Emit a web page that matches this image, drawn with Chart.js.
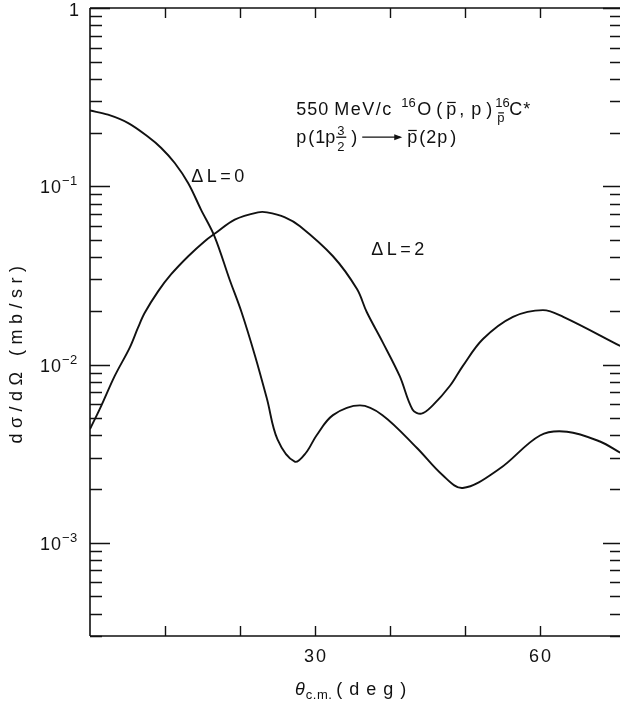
<!DOCTYPE html>
<html>
<head>
<meta charset="utf-8">
<script src="https://cdn.jsdelivr.net/npm/chart.js@4.4.1/dist/chart.umd.min.js"></script>
<style>
  html, body { margin: 0; padding: 0; background: #fff; }
  canvas { display: block; }
</style>
</head>
<body>
<canvas id="myChart" width="620" height="706"></canvas>
<script>
// theta_cm (deg) and d sigma / d Omega (mb/sr)
const angleL0 = [0, 2.4, 5.1, 7.7, 9.5, 11.3, 13.1, 14.8, 16.6, 18.6, 20.2, 22.0, 23.6, 25.0, 27.3, 28.8, 30.2, 32.4, 36.0, 39.0, 43.6, 47.0, 49.7, 54.6, 60.0, 63.6, 68.0, 70.7];
const sigmaL0 = [0.266, 0.252, 0.226, 0.190, 0.164, 0.135, 0.104, 0.074, 0.0524, 0.0301, 0.0197, 0.0112, 0.0064, 0.0038, 0.00285, 0.0032, 0.0040, 0.0052, 0.0059, 0.0052, 0.0034, 0.0024, 0.00203, 0.0026, 0.0040, 0.0042, 0.0037, 0.0032];

const angleL2 = [0, 1.5, 3.3, 5.3, 6.4, 7.3, 9.1, 10.8, 13.1, 15.3, 16.8, 19.3, 22.4, 23.6, 26.0, 28.0, 32.4, 35.6, 36.9, 39.0, 41.3, 43.0, 44.2, 45.7, 48.0, 49.7, 52.4, 56.4, 60.4, 63.1, 70.7];
const sigmaL2 = [0.00434, 0.00586, 0.00863, 0.01245, 0.0161, 0.0195, 0.0258, 0.032, 0.0405, 0.0492, 0.0548, 0.065, 0.0714, 0.0714, 0.067, 0.0597, 0.0405, 0.0265, 0.0197, 0.0134, 0.0086, 0.0056, 0.0053, 0.0059, 0.0076, 0.0098, 0.0139, 0.0185, 0.0202, 0.0185, 0.0127];

const xTicks = [10, 20, 30, 40, 50, 60];
const xLabels = [30, 60];
const decades = [0, -1, -2, -3];

const FONT = '"Liberation Sans", Arial, sans-serif';

function toPoints(xs, ys) {
  return xs.map((x, i) => ({ x: x, y: ys[i] }));
}

function txt(ctx, s, x, y, size, sp, italic) {
  ctx.font = (italic ? "italic " : "") + size + "px " + FONT;
  ctx.letterSpacing = (sp || 0) + "px";
  ctx.fillText(s, x, y);
  return x + ctx.measureText(s).width;
}

// p with a bar over it
function pbar(ctx, x, y, size) {
  const end = txt(ctx, "p", x, y, size, 0);
  ctx.lineWidth = 1.2;
  ctx.beginPath();
  ctx.moveTo(x + 1, y - size * 0.68);
  ctx.lineTo(end - 0.5, y - size * 0.68);
  ctx.stroke();
  return end;
}

const framePlugin = {
  id: "frame",
  afterDraw(chart) {
    const ctx = chart.ctx;
    const xs = chart.scales.x, ys = chart.scales.y;
    const a = chart.chartArea;
    ctx.save();
    ctx.strokeStyle = "#111";
    ctx.fillStyle = "#111";
    ctx.lineWidth = 1.6;

    // axes: left, bottom, top
    ctx.beginPath();
    ctx.moveTo(a.left, a.top); ctx.lineTo(a.left, a.bottom);
    ctx.moveTo(a.left, a.bottom); ctx.lineTo(a.right, a.bottom);
    ctx.moveTo(a.left, a.top); ctx.lineTo(a.right, a.top);
    ctx.stroke();

    // x ticks, inward, top and bottom
    ctx.lineWidth = 1.4;
    ctx.beginPath();
    xTicks.forEach(t => {
      const px = Math.round(xs.getPixelForValue(t)) + 0.5;
      ctx.moveTo(px, a.bottom); ctx.lineTo(px, a.bottom - 10);
      ctx.moveTo(px, a.top); ctx.lineTo(px, a.top + 10);
    });
    // y ticks, inward, left and right
    for (let d = -4; d <= 0; d++) {
      for (let m = 1; m <= 9; m++) {
        const v = m * Math.pow(10, d);
        if (v < ys.min || v > ys.max) continue;
        const py = Math.round(ys.getPixelForValue(v)) + 0.5;
        const major = m === 1;
        ctx.moveTo(a.left, py); ctx.lineTo(a.left + (major ? 20 : 12), py);
        ctx.moveTo(a.right, py); ctx.lineTo(a.right - (major ? 17 : 10), py);
      }
    }
    ctx.stroke();

    // x tick labels
    ctx.textAlign = "center";
    ctx.textBaseline = "alphabetic";
    xLabels.forEach(t => {
      txt(ctx, String(t), xs.getPixelForValue(t) + 1, a.bottom + 26, 18, 2);
    });

    // y tick labels
    ctx.textAlign = "left";
    decades.forEach(d => {
      const py = ys.getPixelForValue(Math.pow(10, d));
      if (d === 0) {
        txt(ctx, "1", a.left - 21, py + 8, 18, 0);
      } else {
        const e = txt(ctx, "10", a.left - 50, py + 7, 18, 1);
        txt(ctx, "\u2212" + (-d), e, py - 1, 13, 0.5);
      }
    });

    // x axis title
    let x = 295, b = a.bottom + 59;
    x = txt(ctx, "\u03b8", x, b, 18, 0, true);
    x = txt(ctx, "c.m.", x + 1, b + 4, 13, 0.5);
    txt(ctx, "( d e g )", x + 4, b, 18, 1);

    // y axis title
    ctx.save();
    ctx.translate(22, 352);
    ctx.rotate(-Math.PI / 2);
    ctx.textAlign = "center";
    txt(ctx, "d\u03c3/d\u03a9 (mb/sr)", 0, 0, 18, 5.5);
    ctx.restore();

    // curve labels
    ctx.textAlign = "left";
    txt(ctx, "\u0394L=0", xs.getPixelForValue(13.5), ys.getPixelForValue(0.105), 18, 3.5);
    txt(ctx, "\u0394L=2", xs.getPixelForValue(37.5), ys.getPixelForValue(0.0414), 18, 3.5);

    // reaction text
    const x0 = xs.getPixelForValue(27.5);
    const b1 = ys.getPixelForValue(0.252);
    txt(ctx, "550", x0, b1, 18, 1);
    txt(ctx, "MeV/c", x0 + 38, b1, 18, 1.5);
    txt(ctx, "16", x0 + 105, b1 - 8, 13, 0);
    txt(ctx, "O", x0 + 121, b1, 18, 0);
    txt(ctx, "(", x0 + 140, b1, 18, 0);
    pbar(ctx, x0 + 150, b1, 18);
    txt(ctx, ",", x0 + 163, b1, 18, 0);
    txt(ctx, "p", x0 + 175, b1, 18, 0);
    txt(ctx, ")", x0 + 190, b1, 18, 0);
    txt(ctx, "16", x0 + 199, b1 - 8, 13, 0);
    pbar(ctx, x0 + 201, b1 + 7, 13);
    txt(ctx, "C*", x0 + 213, b1, 18, 1);

    const b2 = b1 + 28;
    txt(ctx, "p", x0, b2, 18, 0);
    txt(ctx, "(", x0 + 12, b2, 18, 0);
    txt(ctx, "1", x0 + 19, b2, 18, 0);
    txt(ctx, "p", x0 + 29, b2, 18, 0);
    txt(ctx, "3", x0 + 41, b2 - 8, 13, 0);
    txt(ctx, "2", x0 + 41, b2 + 8, 13, 0);
    ctx.lineWidth = 1.3;
    ctx.beginPath();
    ctx.moveTo(x0 + 40, b2 - 5.5); ctx.lineTo(x0 + 50, b2 - 5.5);
    ctx.stroke();
    txt(ctx, ")", x0 + 55, b2, 18, 0);
    // long arrow
    const ay = b2 - 5.5;
    ctx.beginPath();
    ctx.moveTo(x0 + 66, ay); ctx.lineTo(x0 + 104, ay);
    ctx.stroke();
    ctx.beginPath();
    ctx.moveTo(x0 + 106, ay); ctx.lineTo(x0 + 98, ay - 3); ctx.lineTo(x0 + 98, ay + 3);
    ctx.closePath(); ctx.fill();
    pbar(ctx, x0 + 111, b2, 18);
    txt(ctx, "(", x0 + 123, b2, 18, 0);
    txt(ctx, "2", x0 + 130, b2, 18, 0);
    txt(ctx, "p", x0 + 141, b2, 18, 0);
    txt(ctx, ")", x0 + 154, b2, 18, 0);

    ctx.restore();
  }
};

new Chart("myChart", {
  type: "line",
  data: {
    datasets: [
      {
        label: "\u0394L=0",
        data: toPoints(angleL0, sigmaL0),
        borderColor: "#111",
        borderWidth: 1.9,
        pointRadius: 0,
        fill: false,
        tension: 0.35,
      },
      {
        label: "\u0394L=2",
        data: toPoints(angleL2, sigmaL2),
        borderColor: "#111",
        borderWidth: 1.9,
        pointRadius: 0,
        fill: false,
        tension: 0.35,
      },
    ],
  },
  options: {
    responsive: false,
    animation: false,
    layout: { padding: { left: 90, right: 0, top: 8, bottom: 70 } },
    plugins: {
      legend: { display: false },
      tooltip: { enabled: false },
    },
    scales: {
      x: { type: "linear", min: 0, max: 70.67, display: false },
      y: { type: "logarithmic", min: 3.05e-4, max: 1, display: false },
    },
  },
  plugins: [framePlugin],
});
</script>
</body>
</html>
